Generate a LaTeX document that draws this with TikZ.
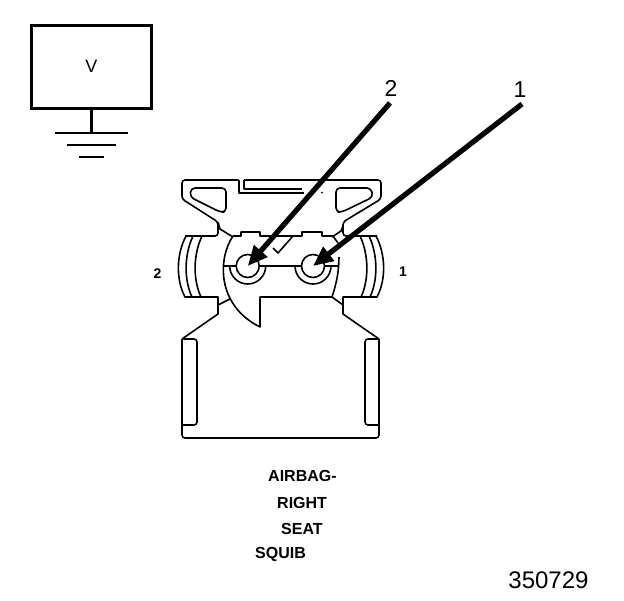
\documentclass[tikz,border=0pt]{standalone}
\usepackage{fontspec}
\setmainfont{Liberation Sans}
\usepackage{xcolor}
\tikzset{
  thinline/.style={draw=linecolor,line width=1.6pt,line join=round},
  pinring/.style={circle,draw=linecolor,line width=1.6pt,fill=white,minimum size=23pt,inner sep=0pt},
  pointer/.style={draw=linecolor,line width=5.2pt,-{Triangle[length=20pt,width=17pt]}},
  sidelabel/.style={inner sep=0pt,text=linecolor,font=\fontsize{14}{14}\selectfont\bfseries},
  partlabel/.style={inner sep=0pt,text=linecolor,font=\fontsize{16}{16}\selectfont\bfseries}
}
\usetikzlibrary{arrows.meta}
\begin{document}
\begin{tikzpicture}[x=1pt,y=-1pt]
\definecolor{linecolor}{RGB}{0,0,0} % Definition of the line color
\useasboundingbox (0,0) rectangle (624,600); % Size of the page

\node[draw=linecolor,line width=2.4pt,minimum width=120pt,minimum height=83pt,inner sep=0pt,font=\fontsize{18}{18}\selectfont] (vbox) at (91.3,67) {\raisebox{1.5pt}{V}}; % Box at the top left
\coordinate (gnd) at (91.3,132.7); % Top of the ground symbol
\draw[draw=linecolor,line width=2.4pt] (vbox.south) -- (gnd); % Stem of the ground symbol
\draw[draw=linecolor,line width=1.8pt] (55,132.7) -- (128,132.7); % Long ground bar
\draw[draw=linecolor,line width=1.8pt] (67,145) -- (116,145); % Middle ground bar
\draw[draw=linecolor,line width=1.8pt] (79,157) -- (104,157); % Short ground bar

\draw[thinline,rounded corners=3pt] (238.7,180) -- (182,180) -- (182,199) -- (218,222) -- (218,236) -- (185,236); % Top left of the housing
\draw[thinline] (239,180) -- (239,193) -- (304,193); % Outer edge of the notch
\draw[thinline] (244,180) -- (244,189) -- (302,189); % Inner edge of the notch
\draw[thinline,rounded corners=3pt] (244,180) -- (381,180) -- (381,199) -- (343,222) -- (343,236) -- (377,236); % Top right of the housing
\fill[linecolor] (322,192.7) circle (1pt); % Small dot
\draw[thinline,rounded corners=4pt] (191,188) -- (226,188) -- (226,212) -- (220,212) -- (190,197) -- cycle; % Left window
\draw[thinline,rounded corners=4pt] (336,188) -- (371,188) -- (373,197) -- (342,212) -- (336,212) -- cycle; % Right window

\draw[thinline] (186,236) .. controls (176,255) and (176,280) .. (185,297) -- (218,297) -- (218,314) -- (182,339); % Left ear
\draw[thinline] (193,236) .. controls (184,255) and (184,280) .. (192,297); % Left ear, second arc
\draw[thinline] (202,236) .. controls (193,255) and (193,280) .. (201,297); % Left ear, third arc
\draw[thinline] (376,236) .. controls (386,255) and (386,280) .. (377,297) -- (343,297) -- (343,314) -- (379,339); % Right ear
\draw[thinline] (369,236) .. controls (378,255) and (378,280) .. (370,297); % Right ear, second arc
\draw[thinline] (360,236) .. controls (369,255) and (369,280) .. (361,297); % Right ear, third arc

\draw[thinline] (233,236) .. controls (218,258) and (216,305) .. (260,327) -- (260,297) -- (332,297) .. controls (336,285) and (339,272) .. (339,257); % Center body
\draw[thinline] (233,236) -- (241,236) -- (241,232) -- (260,232) -- (260,236) -- (293,236) -- (278,253) -- (273,248); % Top of the center body, left tab
\draw[thinline] (293,236) -- (302,236) -- (302,232) -- (322,232) -- (322,236) -- (333,236); % Top of the center body, right tab
\draw[thinline] (218,222) -- (220,229) -- (233,237); % Small line, upper left
\draw[thinline] (218,305) -- (230,299); % Small line, lower left
\draw[thinline] (332,297) -- (343,305); % Small line, lower right
\draw[thinline] (332,237) -- (341,231) -- (343,226); % Small line, upper right
\draw[thinline] (333,236) -- (338,243); % Small line at the right tab

\draw[thinline] (223,266) -- (339,266); % Line through the pins
\draw[thinline] (229.7,266) arc (180:0:18); % Left half ring
\draw[thinline] (295,266) arc (180:0:18); % Right half ring
\node[pinring] (pinB) at (247.7,266) {}; % Left pin
\node[pinring] (pinA) at (313,266) {}; % Right pin

\draw[thinline,rounded corners=3pt] (182,339) -- (182,438) -- (379,438) -- (379,339); % Lower body
\draw[thinline,rounded corners=3pt] (182,339) -- (197,339) -- (197,425) -- (182,425); % Left slot
\draw[thinline,rounded corners=3pt] (379,339) -- (365,339) -- (365,425) -- (379,425); % Right slot

\node[inner sep=0pt,font=\fontsize{23}{23}\selectfont] (arrowlabelB) at (391,88) {2}; % Label of the left arrow
\node[inner sep=0pt,font=\fontsize{23}{23}\selectfont] (arrowlabelA) at (520,90) {1}; % Label of the right arrow
\coordinate (tailB) at (390,103); % Start of the left arrow
\coordinate (tailA) at (522,104); % Start of the right arrow
\draw[pointer] (tailB) -- (pinB.center); % Left arrow
\draw[pointer] (tailA) -- (pinA.center); % Right arrow

\node[sidelabel] (sideB) at (157.5,274) {2}; % Left side number
\node[sidelabel] (sideA) at (403,272) {1}; % Right side number

\node[partlabel,anchor=west] (textA) at (268,476) {AIRBAG-}; % First line
\node[partlabel,anchor=west] (textB) at (277,503) {RIGHT}; % Second line
\node[partlabel,anchor=west] (textC) at (281,529) {SEAT}; % Third line
\node[partlabel,anchor=west] (textD) at (255,554) {SQUIB}; % Fourth line
\node[inner sep=0pt,font=\fontsize{24}{24}\selectfont] (figno) at (548.5,580) {350729}; % Figure number

\end{tikzpicture}
\end{document}
